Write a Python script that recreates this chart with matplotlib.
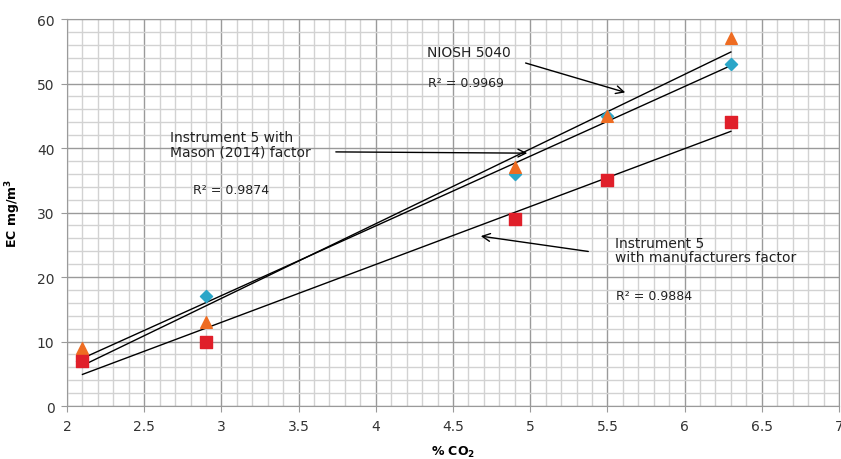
import numpy as np
import matplotlib.pyplot as plt
from matplotlib.ticker import MultipleLocator, FuncFormatter

# Data
co2 = [2.1, 2.9, 4.9, 5.5, 6.3]
niosh = [9, 13, 37, 45, 57]
mason = [7, 17, 36, 45, 53]
manuf = [7, 10, 29, 35, 44]

orange = "#EE6C22"
blue = "#2BA6C8"
red = "#E01F2A"

plt.rcParams['font.family'] = ['DejaVu Sans']

fig = plt.figure(figsize=(8.41, 4.60), dpi=100)
ax = fig.add_axes([0.0797, 0.1152, 0.9179, 0.8413])

ax.set_xlim(2, 7)
ax.set_ylim(0, 60)
ax.xaxis.set_major_locator(MultipleLocator(0.5))
ax.xaxis.set_minor_locator(MultipleLocator(0.1))
ax.yaxis.set_major_locator(MultipleLocator(10))
ax.yaxis.set_minor_locator(MultipleLocator(2))
ax.xaxis.set_major_formatter(FuncFormatter(lambda v, p: f"{v:g}"))
ax.grid(which='minor', color='#d2d2d2', linewidth=1.0)
ax.grid(which='major', color='#9a9a9a', linewidth=1.0)
ax.set_axisbelow(True)
for s in ax.spines.values():
    s.set_color('#9a9a9a')
ax.tick_params(which='minor', length=0)
ax.tick_params(which='major', length=4, color='#9a9a9a', labelsize=10,
               labelcolor='#333333', pad=5)

# linear trend lines through each series
xs = np.array([min(co2), max(co2)])
for ys in (niosh, mason, manuf):
    k, b = np.polyfit(co2, ys, 1)
    ax.plot(xs, k * xs + b, color='black', linewidth=1.0)

ax.scatter(co2, mason, marker='D', s=38, color=blue, zorder=3)
ax.scatter(co2, niosh, marker='^', s=70, color=orange, zorder=4)
ax.scatter(co2, manuf, marker='s', s=70, color=red, zorder=5)

txt = dict(fontsize=10, color='#222222', va='center', ha='left')
arr = dict(arrowstyle='->', color='black', linewidth=1.0, mutation_scale=14)

ax.text(4.33, 54.9, "NIOSH 5040", **txt)
ax.annotate("", xy=(5.633, 48.5), xytext=(4.953, 53.3), arrowprops=arr)
ax.text(4.34, 50.1, "R² = 0.9969", fontsize=9, color='#222222', va='center')

ax.text(2.667, 40.6, "Instrument 5 with\nMason (2014) factor", linespacing=1.0, **txt)
ax.annotate("", xy=(4.999, 39.2), xytext=(3.723, 39.4), arrowprops=arr)
ax.text(2.816, 33.5, "R² = 0.9874", fontsize=9, color='#222222', va='center')

ax.text(5.549, 24.2, "Instrument 5\nwith manufacturers factor", linespacing=1.0, **txt)
ax.annotate("", xy=(4.662, 26.4), xytext=(5.394, 23.9), arrowprops=arr)
ax.text(5.556, 17.2, "R² = 0.9884", fontsize=9, color='#222222', va='center')

ax.set_xlabel(r"% CO$_\mathbf{2}$", fontsize=9, fontweight='bold', labelpad=8)
ax.set_ylabel("EC mg/m$^\\mathbf{3}$", fontsize=9, fontweight='bold', labelpad=10)

fig.savefig("out.png", dpi=100)
